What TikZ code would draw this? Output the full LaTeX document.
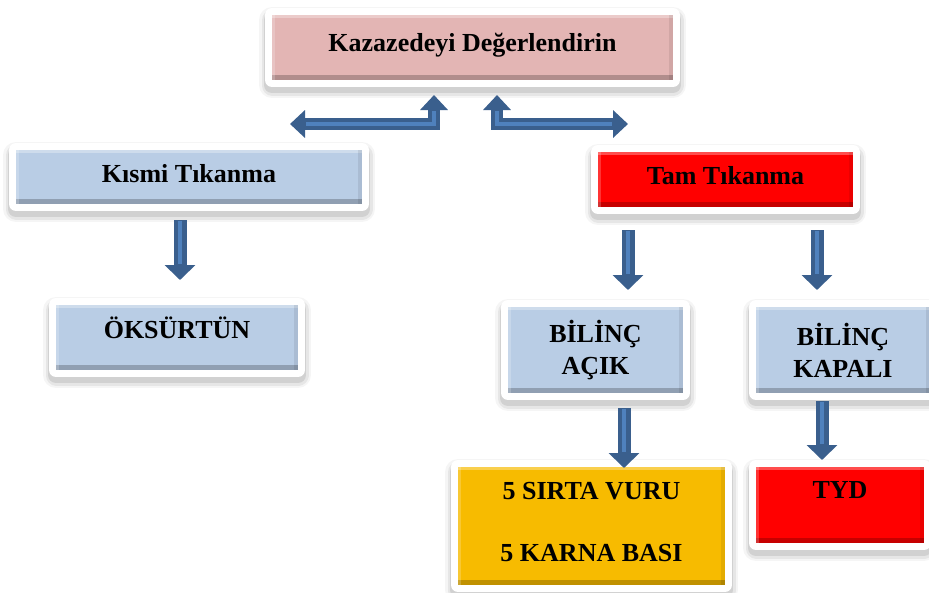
\documentclass[tikz,border=0pt]{standalone}
\usepackage{fontspec}
\setmainfont{Liberation Serif}
\usetikzlibrary{arrows.meta}
\definecolor{pinkf}{HTML}{E3B5B4}
\definecolor{bluef}{HTML}{B9CDE5}
\definecolor{redf}{HTML}{FF0000}
\definecolor{goldf}{HTML}{F7BB00}
\definecolor{arrdark}{HTML}{3A5F8D}
\definecolor{arrlight}{HTML}{4F81BD}
\tikzset{
  shadowlayer/.style 2 args={preaction={draw=black, draw opacity=#2, line width=#1, line join=round, transform canvas={yshift=-5pt}}},
  box/.style={fill=#1, inner sep=0pt, align=center,
    font=\fontsize{26}{32}\selectfont\bfseries,
    shadowlayer={26pt}{0.04}, shadowlayer={21pt}{0.06}, shadowlayer={16pt}{0.09},
    preaction={draw=white, line width=14pt, line join=round},
    path picture={
      \fill[black, opacity=.22] (path picture bounding box.south west) rectangle ([yshift=5pt]path picture bounding box.south east);
      \fill[white, opacity=.3] (path picture bounding box.north west) rectangle ([yshift=-3pt]path picture bounding box.north east);
      \fill[black, opacity=.08] (path picture bounding box.south east) rectangle ([xshift=-4pt]path picture bounding box.north east);
      \fill[white, opacity=.2] (path picture bounding box.south west) rectangle ([xshift=3pt]path picture bounding box.north west);
    }},
  barrow/.style={draw=arrdark, line width=13pt, line join=miter, -{Triangle[length=15pt,width=30pt]}},
  barrowtwo/.style={draw=arrdark, line width=12pt, line join=miter, {Triangle[length=15pt,width=27pt]}-{Triangle[length=15pt,width=27pt]}},
  barrowin/.style={draw=arrlight, line width=4pt, line join=miter, shorten >=16pt, shorten <=1pt},
  barrowintwo/.style={draw=arrlight, line width=4pt, line join=miter, shorten >=16pt, shorten <=16pt}
}
\begin{document}
\begin{tikzpicture}[x=1pt,y=-1pt]
\useasboundingbox (0,0) rectangle (929,592);
\fill[white] (0,0) rectangle (929,592);

\node[box=pinkf, minimum width=401pt, minimum height=65pt, text depth=10.5pt] (top) at (472.5,47.5) {Kazazedeyi Değerlendirin};
\node[box=bluef, minimum width=346pt, minimum height=54pt, text depth=8pt] (kismi) at (189,177) {Kısmi Tıkanma};
\node[box=bluef, minimum width=242pt, minimum height=65pt, text depth=20pt] (oksur) at (177,337.5) {ÖKSÜRTÜN};
\node[box=redf, minimum width=255pt, minimum height=55pt, text depth=9pt] (tam) at (725.5,179.5) {Tam Tıkanma};
\node[box=bluef, minimum width=175pt, minimum height=86pt] (acik) at (595.5,350) {BİLİNÇ\\AÇIK};
\node[box=bluef, minimum width=174pt, minimum height=86pt] (kapali) at (843,350) {BİLİNÇ\\KAPALI};
\node[box=goldf, minimum width=267pt, minimum height=118pt, text depth=8pt] (sirta) at (591.5,526) {5 SIRTA VURU\\[30pt]5 KARNA BASI};
\node[box=redf, minimum width=168pt, minimum height=76pt, text depth=30pt] (tyd) at (840,505) {TYD};

% named connector end points
\coordinate (tlA) at (434,95);
\coordinate (tlB) at (434,124);
\coordinate (tlC) at (290,124);
\coordinate (trA) at (497,95);
\coordinate (trB) at (497,124);
\coordinate (trC) at (628,124);
\coordinate (k1) at (180,220);
\coordinate (k2) at (180,280);
\coordinate (t1) at (628,230);
\coordinate (t2) at (628,290);
\coordinate (t3) at (817,230);
\coordinate (t4) at (817,290);
\coordinate (a1) at (624,408);
\coordinate (a2) at (624,468);
\coordinate (p1) at (822,401);
\coordinate (p2) at (822,460);

\draw[barrowtwo] (tlA) -- (tlB) -- (tlC);
\draw[barrowintwo] (tlA) -- (tlB) -- (tlC);
\draw[barrowtwo] (trA) -- (trB) -- (trC);
\draw[barrowintwo] (trA) -- (trB) -- (trC);

\draw[barrow] (k1) -- (k2);
\draw[barrowin] (k1) -- (k2);
\draw[barrow] (t1) -- (t2);
\draw[barrowin] (t1) -- (t2);
\draw[barrow] (t3) -- (t4);
\draw[barrowin] (t3) -- (t4);
\draw[barrow] (a1) -- (a2);
\draw[barrowin] (a1) -- (a2);
\draw[barrow] (p1) -- (p2);
\draw[barrowin] (p1) -- (p2);
\end{tikzpicture}
\end{document}
